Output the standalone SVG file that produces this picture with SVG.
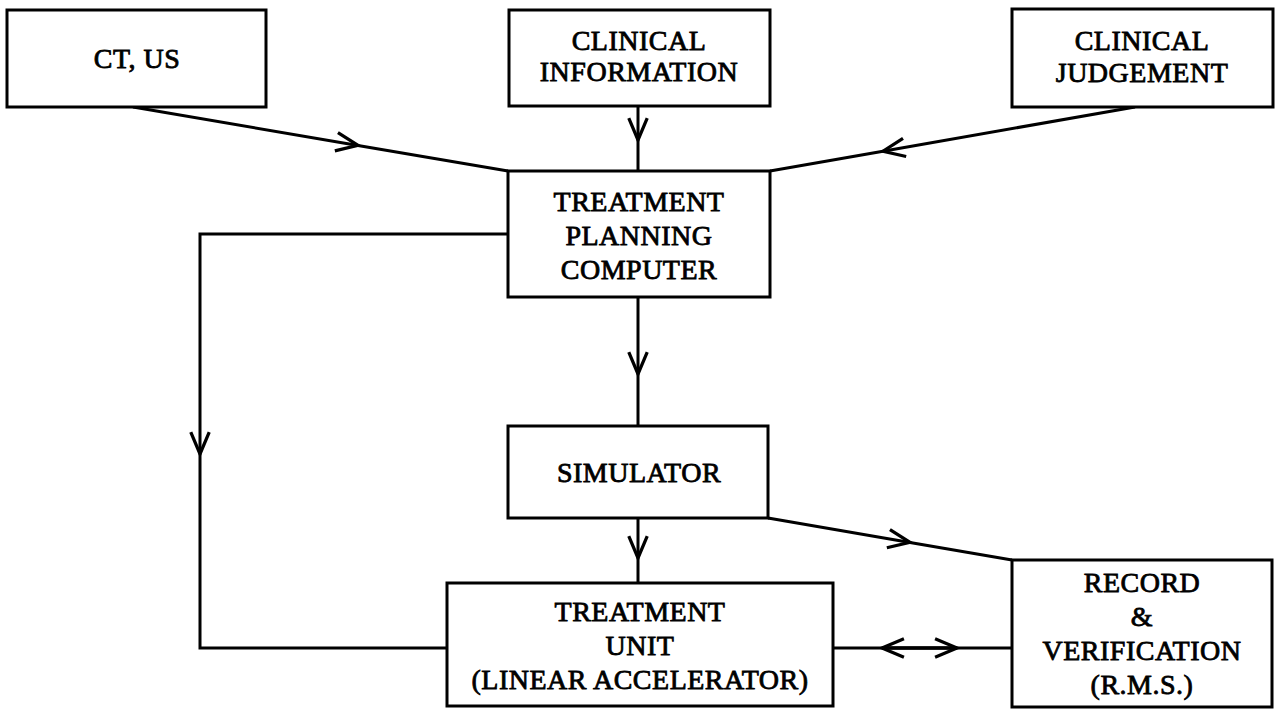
<svg xmlns="http://www.w3.org/2000/svg" width="1280" height="713" viewBox="0 0 1280 713">
<defs>
<style>
.box{fill:#fff;stroke:#000;stroke-width:3}
.t{font-family:"Liberation Serif","Times New Roman",serif;font-size:28px;fill:#000;stroke:#000;stroke-width:0.8;text-anchor:middle;letter-spacing:0.5px}
.c{fill:none;stroke:#000;stroke-width:3}
.a{fill:none;stroke:#000;stroke-width:3;marker-end:url(#arr)}
</style>
<marker id="arr" markerUnits="userSpaceOnUse" markerWidth="30" markerHeight="30" viewBox="-22 -10 26 20" refX="0" refY="0" orient="auto">
<path d="M-19,-8 L0,0 L-19,8" fill="none" stroke="#000" stroke-width="2.8"/>
</marker>
</defs>
<rect width="1280" height="713" fill="#fff"/>
<g id="connectors">
<path class="a" d="M133,107 L358,145.4"/>
<path class="c" d="M358,145.4 L508,171"/>
<path class="a" d="M638,106 L638,140"/>
<path class="c" d="M638,140 L638,171"/>
<path class="a" d="M1135,107 L883,151.2"/>
<path class="c" d="M883,151.2 L770,171"/>
<path class="a" d="M508,234 L200,234 L200,454"/>
<path class="c" d="M200,454 L200,648 L447,648"/>
<path class="a" d="M638,297 L638,374"/>
<path class="c" d="M638,374 L638,426"/>
<path class="a" d="M638,518 L638,558"/>
<path class="c" d="M638,558 L638,583"/>
<path class="a" d="M768,518 L910,542.4"/>
<path class="c" d="M910,542.4 L1012,560"/>
<path class="c" d="M833,648 L1012,648"/>
<path class="a" d="M957,648 L882,648"/>
<path class="a" d="M882,648 L957,648"/>
</g>
<g id="ct-us">
<rect class="box" x="7" y="10" width="259" height="97"/>
<text class="t" x="137" y="68">CT, US</text>
</g>
<g id="clinical-information">
<rect class="box" x="509" y="10" width="261" height="96"/>
<text class="t" x="639" y="50">CLINICAL</text>
<text class="t" x="639" y="81">INFORMATION</text>
</g>
<g id="clinical-judgement">
<rect class="box" x="1012" y="9" width="261" height="98"/>
<text class="t" x="1142" y="50">CLINICAL</text>
<text class="t" x="1142" y="82">JUDGEMENT</text>
</g>
<g id="treatment-planning-computer">
<rect class="box" x="508" y="171" width="262" height="126"/>
<text class="t" x="639" y="211">TREATMENT</text>
<text class="t" x="639" y="245">PLANNING</text>
<text class="t" x="639" y="279">COMPUTER</text>
</g>
<g id="simulator">
<rect class="box" x="508" y="426" width="260" height="92"/>
<text class="t" x="639" y="482">SIMULATOR</text>
</g>
<g id="treatment-unit">
<rect class="box" x="447" y="583" width="386" height="123"/>
<text class="t" x="640" y="621">TREATMENT</text>
<text class="t" x="640" y="655">UNIT</text>
<text class="t" x="640" y="689">(LINEAR ACCELERATOR)</text>
</g>
<g id="record-verification">
<rect class="box" x="1012" y="560" width="260" height="147"/>
<text class="t" x="1142" y="592">RECORD</text>
<text class="t" x="1142" y="626">&amp;</text>
<text class="t" x="1142" y="660">VERIFICATION</text>
<text class="t" x="1142" y="694">(R.M.S.)</text>
</g>
</svg>
